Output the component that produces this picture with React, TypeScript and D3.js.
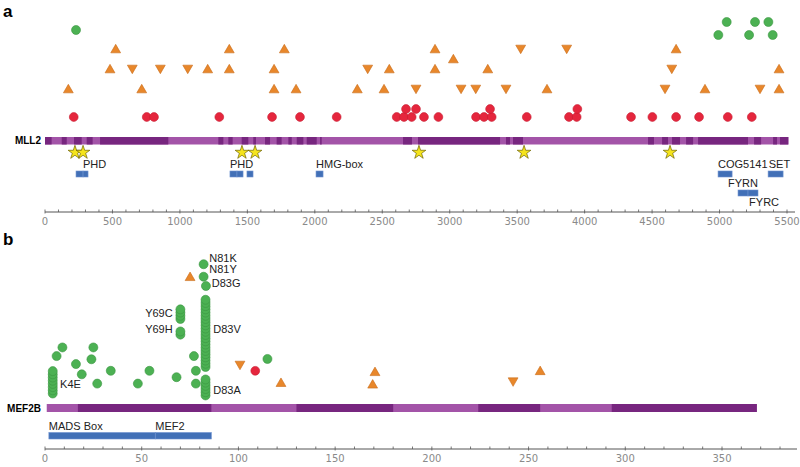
import * as d3 from "d3";

// ---- MLL2 (panel a) ----
const mll2Length = 5510;
const mll2Dark = [
  [0, 49], [124, 161], [215, 272], [309, 353], [408, 914], [1285, 1322], [1359, 1391],
  [1458, 1507], [1544, 1564], [1631, 1668], [1717, 1754], [1804, 1829], [1866, 1915],
  [1940, 2014], [2039, 2051], [2654, 2720], [2765, 3373], [3417, 3447], [3469, 3543],
  [4470, 4514], [4574, 4618], [4648, 4707], [4752, 4804], [4841, 5211], [5256, 5308],
  [5397, 5426], [5448, 5510],
];
const mll2Stars = [222, 282, 1460, 1557, 2772, 3551, 4633];
// [start, end, row]
const mll2Domains = [
  [230, 282, 0], [282, 319, 0], [1371, 1423, 0], [1423, 1468, 0], [1497, 1542, 0],
  [2009, 2061, 0], [4989, 5093, 0], [5360, 5471, 0], [5137, 5211, 1], [5211, 5285, 1],
];
// [text, pos, row]  row: 0 above first row, 1 above second row, 2 below second row
const mll2DomainLabels = [
  ["PHD", 282, 0], ["PHD", 1371, 0], ["HMG-box", 2009, 0], ["COG5141", 4989, 0],
  ["SET", 5365, 0], ["FYRN", 5063, 1], ["FYRC", 5219, 2],
];
// [pos, level]
const mll2Red = [
  [213, 0], [754, 0], [808, 0], [1292, 0], [1683, 0], [1890, 0], [2162, 0], [2607, 0],
  [2661, 0], [2718, 0], [2809, 0], [2916, 0], [3195, 0], [3254, 0], [3311, 0], [3571, 0],
  [3884, 0], [3941, 0], [4344, 0], [4502, 0], [4678, 0], [4848, 0], [5061, 0], [5239, 0],
  [2676, 0.4], [2750, 0.4], [3299, 0.4], [3946, 0.4],
];
const mll2Up = [
  [524, 3.4], [1366, 3.4], [1774, 3.4], [2891, 3.4], [4678, 3.4], [3027, 2.9],
  [482, 2.4], [1206, 2.4], [1366, 2.4], [1698, 2.4], [2552, 2.4], [2891, 2.4], [3282, 2.4], [5441, 2.4],
  [173, 1.4], [717, 1.4], [1698, 1.4], [1861, 1.4], [2315, 1.4], [2513, 1.4], [3721, 1.4],
  [4892, 1.4], [5441, 1.4],
];
const mll2Down = [
  [3526, 3.4], [3867, 3.4],
  [647, 2.4], [855, 2.4], [1058, 2.4], [2392, 2.4], [4646, 2.4],
  [2750, 1.4], [3084, 1.4], [3193, 1.4], [3417, 1.4], [4596, 1.4], [5300, 1.4],
];
const mll2Green = [
  [230, 4.35], [5053, 4.75], [5263, 4.75], [5362, 4.75], [4991, 4.1], [5219, 4.1], [5394, 4.1],
];

// ---- MEF2B (panel b) ----
const mef2bLength = 368;
const mef2bDark = [[17, 86], [130, 180], [224, 256], [293, 368]];
const mef2bDomains = [["MADS Box", 2, 57], ["MEF2", 57, 86]];
// stacked recurrent mutations: [pos, first level, count]
const mef2bStacks = [[4, 1.4, 8], [83, 9.7, 22], [83, 0.8, 6], [70, 24.7, 4], [70, 19.8, 2]];
const mef2bGreen = [
  [9, 15.8], [25, 15.8], [6, 13.1], [24, 12.1], [16, 10.6], [19, 7.4], [34, 8.5], [54, 8.5],
  [27, 4.5], [48, 4.5], [68, 6.5], [77, 13.1], [78, 8.5], [78, 4.5], [115, 12.2],
  [82, 41.8], [82, 37.9], [83.2, 35.0],
];
const mef2bRed = [[108.7, 8.5]];
const mef2bUp = [[75, 37.9], [122, 4.8], [170.6, 8.2], [169.4, 4.3], [256, 8.5]];
const mef2bDown = [[100.8, 10.3], [242, 5.1]];
// [text, pos, level, anchor]
const mef2bLabels = [
  ["N81K", 84.9, 43.8, "start"], ["N81Y", 84.9, 40.2, "start"], ["D83G", 86.2, 36.0, "start"],
  ["Y69C", 66, 26.5, "end"], ["Y69H", 66, 21.6, "end"], ["D83V", 87, 21.6, "start"],
  ["D83A", 87, 2.5, "start"], ["K4E", 7.8, 4.3, "start"],
];

const DARK = "#77267f";
const LIGHT = "#a354a8";
const RED = "#e5263d";
const ORANGE = "#e8872b";
const GREEN = "#4cb153";
const BLUE = "#4270b7";
const sans = "Liberation Sans, Arial, sans-serif";
const tickFont = "DejaVu Sans, sans-serif";

const tri = d3.symbol(d3.symbolTriangle, 42)();
const star = d3.symbol(d3.symbolStar, 58)();

function Marker({ x, y, kind }) {
  if (kind === "red") return <circle cx={x} cy={y} r={4.4} fill={RED} stroke="#c81c30" strokeWidth={0.6} />;
  if (kind === "green") return <circle cx={x} cy={y} r={4.5} fill={GREEN} stroke="#3a9641" strokeWidth={0.6} />;
  const rot = kind === "down" ? 180 : 0;
  return (
    <path d={tri} transform={`translate(${x},${y + (kind === "down" ? -1 : 1)}) rotate(${rot})`}
      fill={ORANGE} stroke="#c96c1a" strokeWidth={0.6} />
  );
}

function Axis({ x, y, max, step, labelStep, end }) {
  const ticks = d3.range(0, max + 1, step);
  return (
    <g>
      <line x1={x(0)} x2={end} y1={y} y2={y} stroke="#555" strokeWidth={1} />
      {ticks.map((t) => (
        <line key={t} x1={x(t)} x2={x(t)} y1={y - 2.5} y2={t % labelStep === 0 ? y + 1.5 : y} stroke="#555" strokeWidth={0.8} />
      ))}
      {ticks.filter((t) => t % labelStep === 0).map((t) => (
        <text key={"l" + t} x={x(t)} y={y + 13} textAnchor="middle" fontFamily={tickFont} fontSize={10} fill="#8a8a8a">
          {t}
        </text>
      ))}
    </g>
  );
}

export default function App() {
  const width = 800;
  const height = 467;

  // panel a
  const xa = d3.scaleLinear().domain([0, 5500]).range([45, 787]);
  const ya = d3.scaleLinear().domain([0, 1]).range([117, 97]);
  const barA = { y: 137, h: 7.5 };
  const domRowY = [171, 190];
  const domLabelY = [164, 183, 202.5];

  // panel b
  const xb = d3.scaleLinear().domain([0, 350]).range([45, 722]);
  const yb = d3.scaleLinear().domain([0, 40]).range([398, 270]);
  const barB = { y: 404, h: 8 };

  const stackPts = mef2bStacks.flatMap(([p, l0, n]) => d3.range(n).map((i) => [p, l0 + i]));

  return (
    <svg width={width} height={height} style={{ position: "absolute", left: 0, top: 0, background: "#fff" }}>
      {/* panel a */}
      <text x={3} y={17} fontFamily={sans} fontWeight="bold" fontSize={17}>a</text>
      {mll2Green.map(([p, l], i) => <Marker key={"ag" + i} x={xa(p)} y={ya(l)} kind="green" />)}
      {mll2Up.map(([p, l], i) => <Marker key={"au" + i} x={xa(p)} y={ya(l)} kind="up" />)}
      {mll2Down.map(([p, l], i) => <Marker key={"ad" + i} x={xa(p)} y={ya(l)} kind="down" />)}
      {mll2Red.map(([p, l], i) => <Marker key={"ar" + i} x={xa(p)} y={ya(l)} kind="red" />)}

      <text x={41} y={barA.y + barA.h / 2} dy="0.35em" textAnchor="end" fontFamily={sans} fontWeight="bold" fontSize={10}>MLL2</text>
      <rect x={xa(0)} y={barA.y} width={xa(mll2Length) - xa(0)} height={barA.h} fill={LIGHT} />
      {mll2Dark.map(([s, e], i) => (
        <rect key={"ad" + i} x={xa(s)} y={barA.y} width={xa(e) - xa(s)} height={barA.h} fill={DARK} />
      ))}
      {mll2Stars.map((p, i) => (
        <path key={"st" + i} d={star} transform={`translate(${xa(p)},152.5)`} fill="#f5e41c" stroke="#6e6400" strokeWidth={0.7} />
      ))}
      {mll2Domains.map(([s, e, r], i) => (
        <rect key={"dm" + i} x={xa(s)} y={domRowY[r]} width={xa(e) - xa(s)} height={6} fill={BLUE} stroke="#6e92cf" strokeWidth={0.6} />
      ))}
      {mll2DomainLabels.map(([t, p, r], i) => (
        <text key={"dl" + i} x={xa(p)} y={domLabelY[r]} dy="0.35em" fontFamily={sans} fontSize={11} fill="#222">{t}</text>
      ))}
      <Axis x={xa} y={212} max={5500} step={100} labelStep={500} end={795} />

      {/* panel b */}
      <text x={3} y={245} fontFamily={sans} fontWeight="bold" fontSize={17}>b</text>
      {mef2bUp.map(([p, l], i) => <Marker key={"bu" + i} x={xb(p)} y={yb(l)} kind="up" />)}
      {mef2bDown.map(([p, l], i) => <Marker key={"bd" + i} x={xb(p)} y={yb(l)} kind="down" />)}
      {mef2bRed.map(([p, l], i) => <Marker key={"br" + i} x={xb(p)} y={yb(l)} kind="red" />)}
      {mef2bGreen.map(([p, l], i) => <Marker key={"bg" + i} x={xb(p)} y={yb(l)} kind="green" />)}
      {stackPts.map(([p, l], i) => <Marker key={"bs" + i} x={xb(p)} y={yb(l)} kind="green" />)}
      {mef2bLabels.map(([t, p, l, a], i) => (
        <text key={"bl" + i} x={xb(p)} y={yb(l)} dy="0.35em" textAnchor={a} fontFamily={sans} fontSize={11} fill="#222">{t}</text>
      ))}

      <text x={41} y={barB.y + barB.h / 2} dy="0.35em" textAnchor="end" fontFamily={sans} fontWeight="bold" fontSize={10}>MEF2B</text>
      <rect x={xb(0.9)} y={barB.y} width={xb(mef2bLength) - xb(0.9)} height={barB.h} fill={LIGHT} />
      {mef2bDark.map(([s, e], i) => (
        <rect key={"bdk" + i} x={xb(s)} y={barB.y} width={xb(e) - xb(s)} height={barB.h} fill={DARK} />
      ))}
      {mef2bDomains.map(([t, s, e], i) => (
        <g key={"bdm" + i}>
          <rect x={xb(s)} y={432.5} width={xb(e) - xb(s)} height={6.5} fill={BLUE} stroke="#6e92cf" strokeWidth={0.6} />
          <text x={xb(s)} y={426.5} dy="0.35em" fontFamily={sans} fontSize={11} fill="#222">{t}</text>
        </g>
      ))}
      <Axis x={xb} y={449} max={380} step={10} labelStep={50} end={797} />
    </svg>
  );
}
